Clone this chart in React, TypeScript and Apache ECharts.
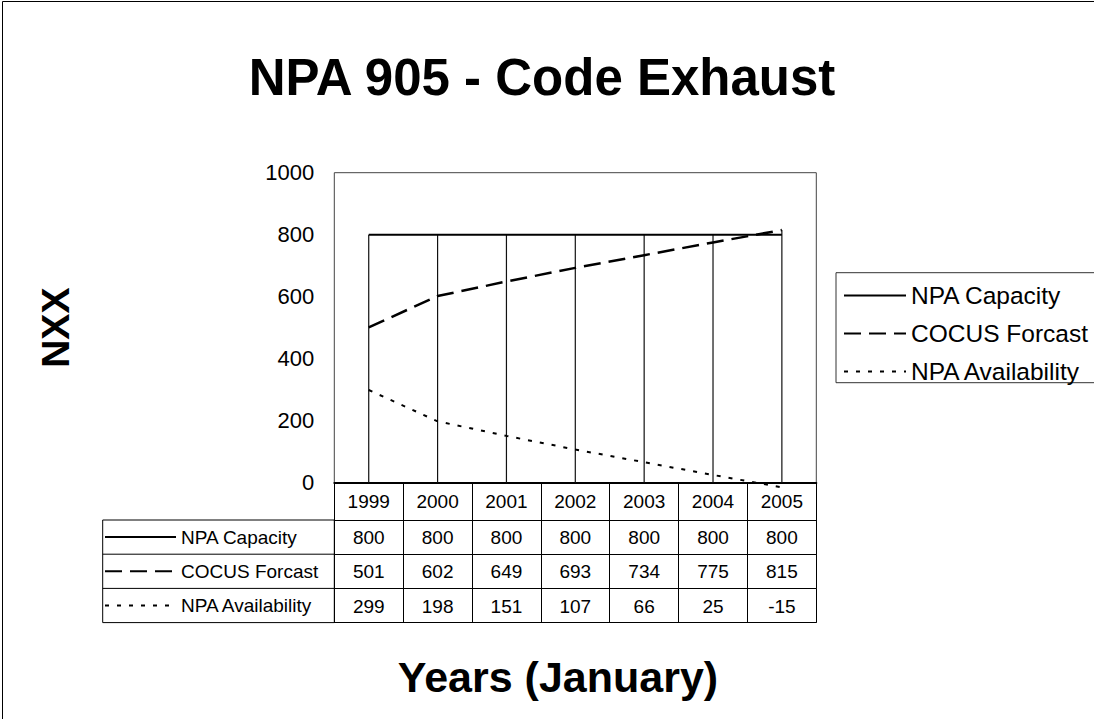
import React, { useEffect, useRef } from "react";
import * as echarts from "echarts";

const years = ["1999", "2000", "2001", "2002", "2003", "2004", "2005"];
const capacityName = "NPA Capacity";
const forecastName = "COCUS Forcast";
const availabilityName = "NPA Availability";
const capacity = [800, 800, 800, 800, 800, 800, 800];
const forecast = [501, 602, 649, 693, 734, 775, 815];
const availability = [299, 198, 151, 107, 66, 25, -15];
const yTicks = { min: 0, max: 1000, interval: 200 };
const titleText = "NPA 905 - Code Exhaust";
const xTitle = "Years (January)";
const yTitle = "NXX";

const FONT = "Liberation Sans, Arial, sans-serif";

export default function App() {
  const ref = useRef<HTMLDivElement>(null);
  useEffect(() => {
    if (!ref.current) return;
    const chart = echarts.init(ref.current, undefined, { renderer: "svg" });
    const gridLeft = 334.3;
    const gridTop = 172.7;
    const gridW = 482;
    const gridH = 310;
    const gridBottom = gridTop + gridH;
    const headerH = 37.3;
    const rowH = 34.2;
    const tableFont = 19;
    const seriesNames = [capacityName, forecastName, availabilityName];
    const rows = [capacity, forecast, availability];

    const tableAxes = rows.map((vals, r) => ({
      type: "category",
      gridIndex: 0,
      position: "bottom",
      offset: headerH + r * rowH,
      data: vals.map(String),
      boundaryGap: true,
      axisLine: { show: true, lineStyle: { color: "#000", width: 1 } },
      axisTick: { show: true, length: rowH, lineStyle: { color: "#000", width: 1 } },
      axisLabel: { show: true, color: "#000", fontSize: tableFont, fontFamily: FONT, margin: (rowH - tableFont) / 2 + 0.5, interval: 0 },
      splitLine: { show: false },
    }));

    const tableTop = gridBottom + headerH;
    const tableBottom = tableTop + 3 * rowH;
    const hiddenSymbol = { color: "transparent", borderColor: "transparent", borderWidth: 0, opacity: 0 };

    chart.setOption({
      animation: false,
      textStyle: { fontFamily: FONT },
      grid: {
        left: gridLeft,
        top: gridTop,
        width: gridW,
        height: gridH,
        show: true,
        borderColor: "#444",
        borderWidth: 1,
        backgroundColor: "transparent",
      },
      legend: [
        {
          data: seriesNames,
          orient: "vertical",
          left: 843,
          top: 283,
          itemWidth: 62,
          itemHeight: 2,
          itemGap: 13,
          padding: 0,
          selectedMode: false,
          itemStyle: hiddenSymbol,
          textStyle: { color: "#000", fontSize: 24.5, fontFamily: FONT, lineHeight: 23 },
        },
        {
          data: seriesNames,
          orient: "vertical",
          left: 104,
          top: tableTop + (rowH - 20) / 2,
          itemWidth: 71,
          itemHeight: 2,
          itemGap: rowH - 20,
          padding: 0,
          selectedMode: false,
          itemStyle: hiddenSymbol,
          textStyle: { color: "#000", fontSize: tableFont, fontFamily: FONT, lineHeight: 20 },
        },
      ],
      xAxis: [
        {
          type: "category",
          gridIndex: 0,
          position: "bottom",
          offset: 0,
          data: years,
          boundaryGap: true,
          axisLine: { show: true, lineStyle: { color: "#000", width: 2 } },
          axisTick: { show: true, length: headerH, lineStyle: { color: "#000", width: 1 } },
          axisLabel: { color: "#000", fontSize: tableFont, fontFamily: FONT, margin: (headerH - tableFont) / 2, interval: 0 },
          splitLine: { show: false },
        },
        ...tableAxes,
        {
          type: "category",
          gridIndex: 0,
          position: "bottom",
          offset: headerH + 3 * rowH,
          data: years,
          axisLine: { show: true, lineStyle: { color: "#000", width: 1 } },
          axisTick: { show: false },
          axisLabel: { show: false },
          splitLine: { show: false },
        },
      ],
      yAxis: {
        type: "value",
        min: yTicks.min,
        max: yTicks.max,
        interval: yTicks.interval,
        name: yTitle,
        nameLocation: "middle",
        nameRotate: 90,
        nameGap: 259,
        nameTextStyle: { color: "#000", fontSize: 39, fontWeight: "bold", fontFamily: FONT },
        axisLine: { show: false },
        axisTick: { show: false },
        splitLine: { show: false },
        axisLabel: { color: "#000", fontSize: 22, fontFamily: FONT, margin: 20, formatter: (v: number) => String(v) },
      },
      graphic: [
        {
          type: "rect",
          shape: { x: 2.5, y: 1.5, width: 1200, height: 900 },
          style: { fill: "none", stroke: "#000", lineWidth: 1 },
          silent: true,
          z: -10,
        },
        {
          type: "rect",
          shape: { x: 836, y: 272.7, width: 400, height: 110 },
          style: { fill: "#fff", stroke: "#333", lineWidth: 1 },
          silent: true,
          z: -5,
        },
        {
          type: "text",
          x: 542,
          y: 77,
          style: { text: titleText, font: `bold 51px ${FONT}`, fill: "#000", align: "center", verticalAlign: "middle" },
        },
        {
          type: "text",
          x: 558,
          y: 677,
          style: { text: xTitle, font: `bold 43px ${FONT}`, fill: "#000", align: "center", verticalAlign: "middle" },
        },
        {
          type: "rect",
          shape: { x: 102.7, y: tableTop, width: gridLeft - 102.7, height: tableBottom - tableTop },
          style: { fill: "none", stroke: "#000", lineWidth: 1 },
          silent: true,
        },
        {
          type: "line",
          shape: { x1: 102.7, y1: tableTop + rowH, x2: gridLeft, y2: tableTop + rowH },
          style: { stroke: "#000", lineWidth: 1 },
          silent: true,
        },
        {
          type: "line",
          shape: { x1: 102.7, y1: tableTop + 2 * rowH, x2: gridLeft, y2: tableTop + 2 * rowH },
          style: { stroke: "#000", lineWidth: 1 },
          silent: true,
        },
      ],
      series: [
        {
          name: "Drop lines",
          type: "custom",
          xAxisIndex: 0,
          yAxisIndex: 0,
          z: 1,
          clip: false,
          data: years.map((_, i) => [i, Math.max(capacity[i], forecast[i], availability[i])]),
          renderItem: (params: any, api: any) => {
            const top = api.coord([api.value(0), api.value(1)]);
            const bottom = api.coord([api.value(0), 0]);
            return {
              type: "line",
              shape: { x1: top[0], y1: top[1], x2: bottom[0], y2: bottom[1] },
              style: { stroke: "#111", lineWidth: 1.2 },
            };
          },
        },
        {
          name: capacityName,
          type: "line",
          data: capacity,
          symbol: "none",
          z: 3,
          lineStyle: { color: "#000", width: 2, type: "solid" },
          itemStyle: { color: "#000" },
        },
        {
          name: forecastName,
          type: "line",
          data: forecast,
          symbol: "none",
          z: 3,
          clip: false,
          lineStyle: { color: "#000", width: 2.5, type: [17, 8] },
          itemStyle: { color: "#000" },
        },
        {
          name: availabilityName,
          type: "line",
          data: availability,
          symbol: "none",
          z: 3,
          clip: false,
          lineStyle: { color: "#000", width: 2, type: [4, 8] },
          itemStyle: { color: "#000" },
        },
      ],
    });
    return () => chart.dispose();
  }, []);
  return (
    <div
      ref={ref}
      style={{ position: "absolute", left: 0, top: 0, width: 1094, height: 719, background: "#fff" }}
    />
  );
}
